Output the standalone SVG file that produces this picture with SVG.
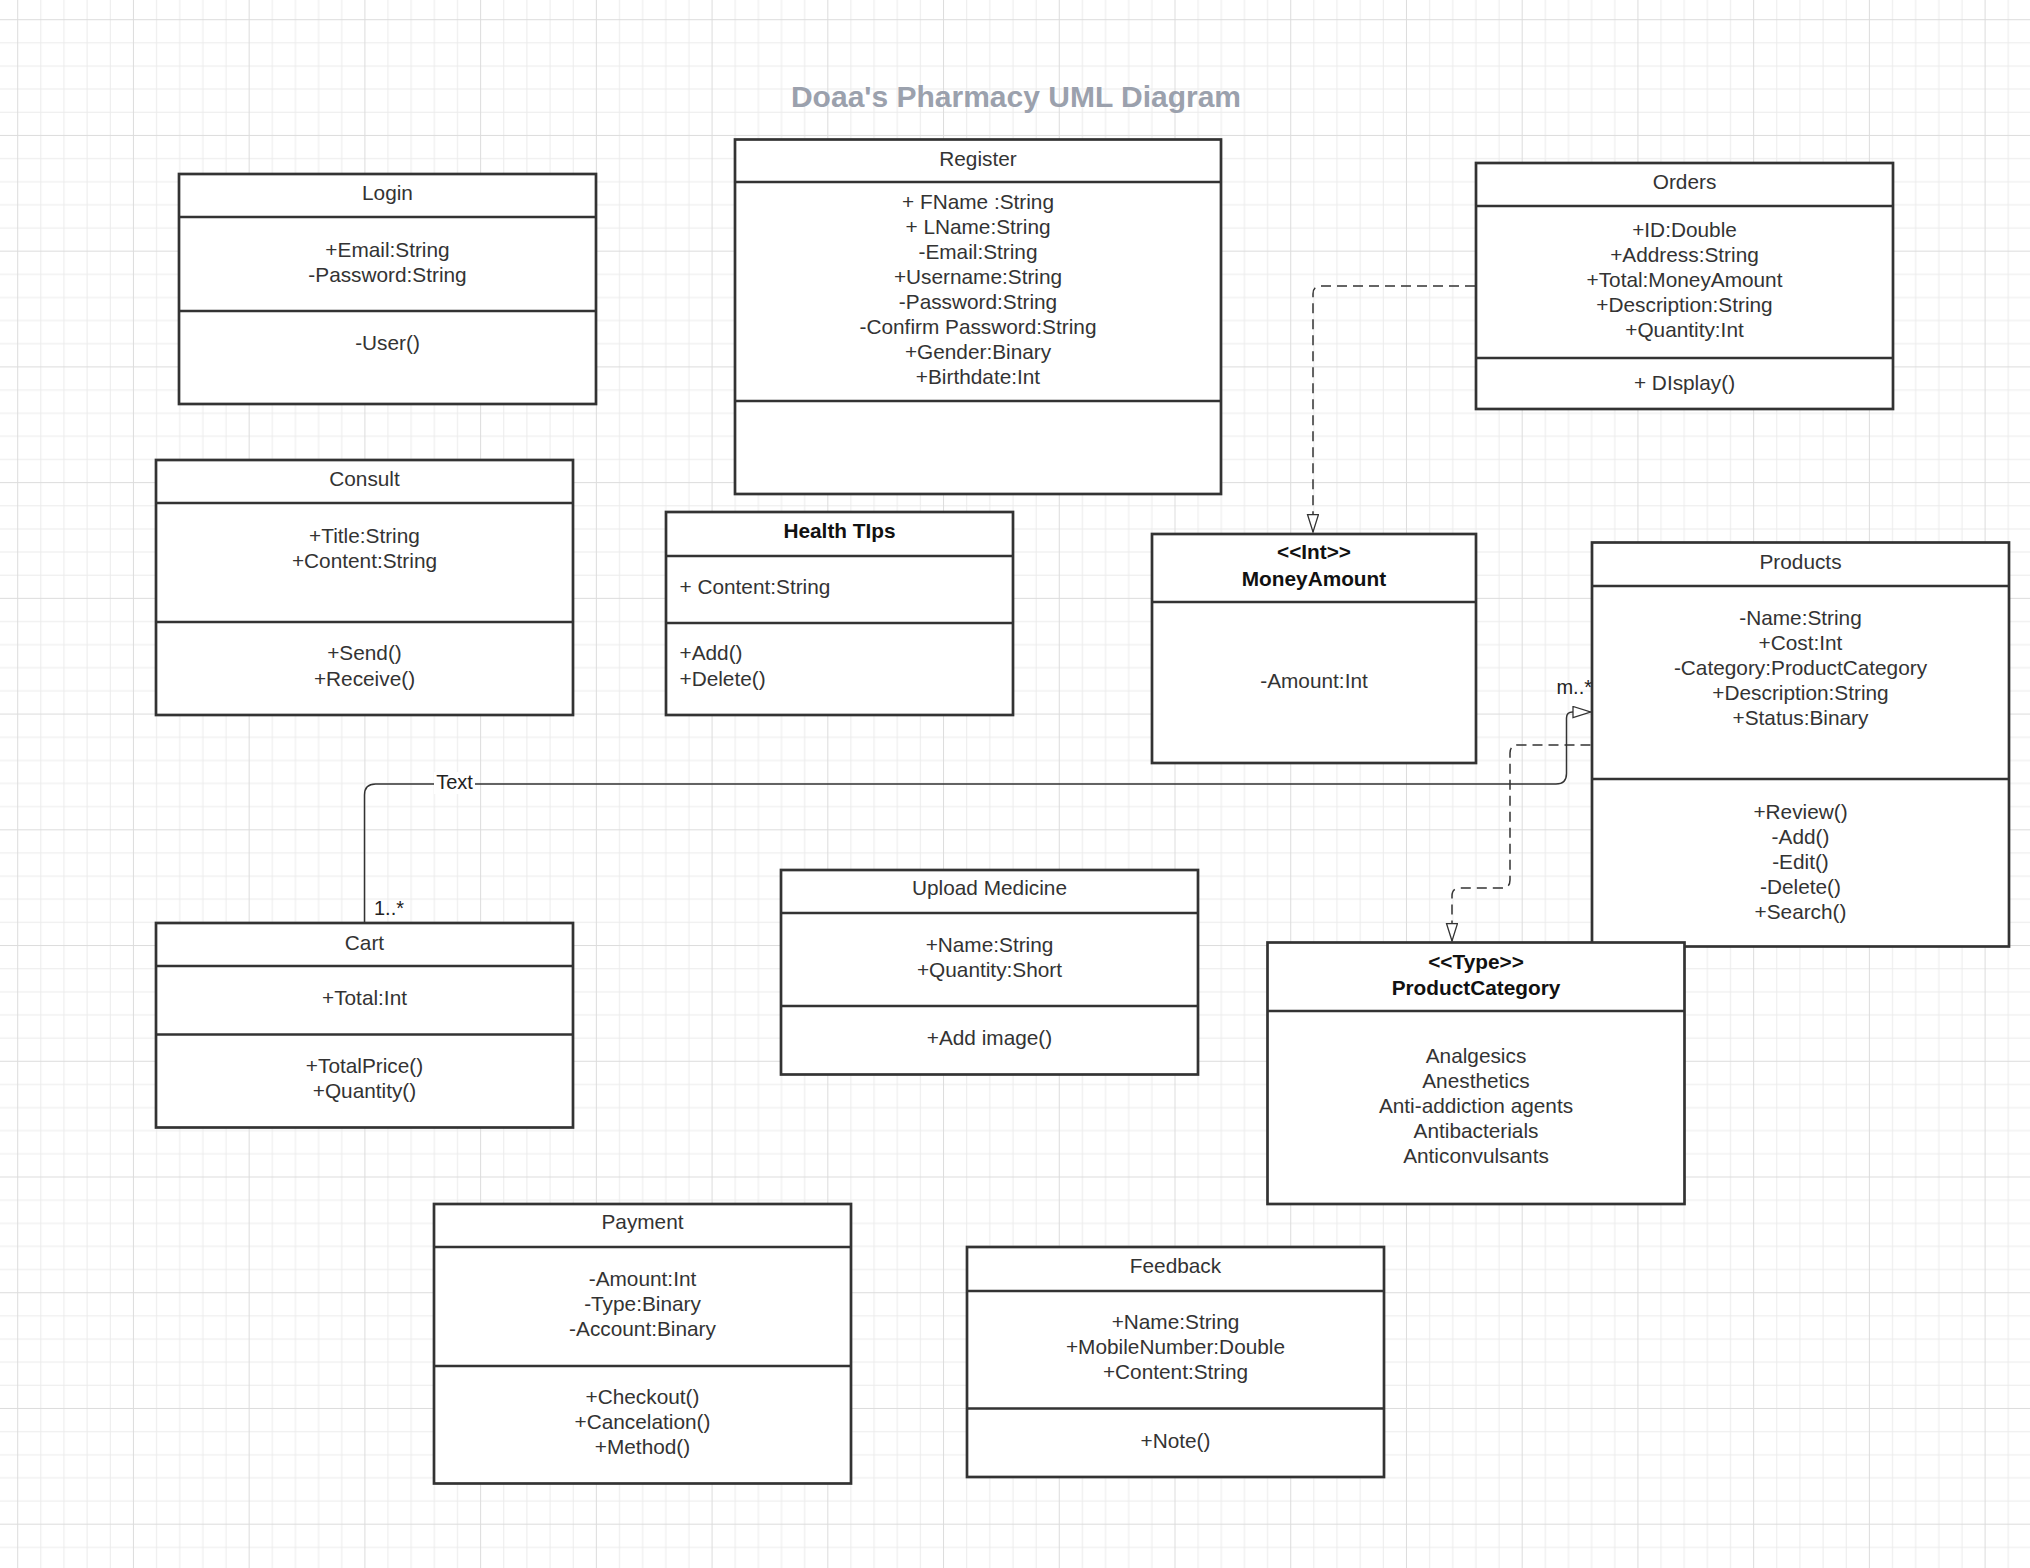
<svg xmlns="http://www.w3.org/2000/svg" width="2030" height="1568" viewBox="0 0 2030 1568">
<style>
.box{fill:#fff;stroke:#333;stroke-width:2.7}
.div{stroke:#333;stroke-width:2.7;fill:none}
.t{font-family:"Liberation Sans",Arial,sans-serif;font-size:20.8px;fill:#333;text-anchor:middle}
.l{text-anchor:start}
.b{font-weight:bold;fill:#111}
.conn{fill:none;stroke:#333;stroke-width:1.5}
.dash{stroke-dasharray:10 6}
.lab{font-family:"Liberation Sans",Arial,sans-serif;font-size:20px;fill:#222}
.title{font-family:"Liberation Sans",Arial,sans-serif;font-size:30px;font-weight:bold;fill:#9ba1ad;text-anchor:middle}
</style>
<defs>
<pattern id="grid" x="17.2" y="19.2" width="115.73" height="115.73" patternUnits="userSpaceOnUse">
<path d="M23.65,0V115.73M46.79,0V115.73M69.94,0V115.73M93.08,0V115.73M0,23.65H115.73M0,46.79H115.73M0,69.94H115.73M0,93.08H115.73" stroke="#ebebeb" stroke-width="1" fill="none"/>
<path d="M0.5,0V115.73M0,0.5H115.73" stroke="#dcdcdc" stroke-width="1" fill="none"/>
</pattern>
<marker id="tri" markerUnits="userSpaceOnUse" markerWidth="20" markerHeight="13" refX="18.5" refY="6" orient="auto">
<path d="M1,0.5 L18.5,6 L1,11.5 Z" fill="#fff" stroke="#333" stroke-width="1.3"/>
</marker>
</defs>
<rect width="2030" height="1568" fill="#fff"/>
<rect width="2030" height="1568" fill="url(#grid)"/>
<text class="title" x="1016" y="106.5">Doaa's Pharmacy UML Diagram</text>

<g id="login">
<rect class="box" x="179" y="174" width="417" height="230"/>
<path class="div" d="M179,217H596M179,311H596"/>
<text class="t" x="387.5" y="200">Login</text>
<text class="t" x="387.5" y="257">+Email:String</text>
<text class="t" x="387.5" y="282">-Password:String</text>
<text class="t" x="387.5" y="350">-User()</text>
</g>

<g id="register">
<rect class="box" x="735" y="139.5" width="486" height="354.5"/>
<path class="div" d="M735,182H1221M735,401H1221"/>
<text class="t" x="978" y="166">Register</text>
<text class="t" x="978" y="209">+ FName :String</text>
<text class="t" x="978" y="234">+ LName:String</text>
<text class="t" x="978" y="259">-Email:String</text>
<text class="t" x="978" y="284">+Username:String</text>
<text class="t" x="978" y="309">-Password:String</text>
<text class="t" x="978" y="334">-Confirm Password:String</text>
<text class="t" x="978" y="359">+Gender:Binary</text>
<text class="t" x="978" y="384">+Birthdate:Int</text>
</g>

<g id="orders">
<rect class="box" x="1476" y="163" width="417" height="246"/>
<path class="div" d="M1476,206H1893M1476,358H1893"/>
<text class="t" x="1684.5" y="189">Orders</text>
<text class="t" x="1684.5" y="237">+ID:Double</text>
<text class="t" x="1684.5" y="262">+Address:String</text>
<text class="t" x="1684.5" y="287">+Total:MoneyAmount</text>
<text class="t" x="1684.5" y="312">+Description:String</text>
<text class="t" x="1684.5" y="337">+Quantity:Int</text>
<text class="t" x="1684.5" y="390">+ DIsplay()</text>
</g>

<g id="consult">
<rect class="box" x="156" y="460" width="417" height="255"/>
<path class="div" d="M156,503H573M156,622H573"/>
<text class="t" x="364.5" y="486">Consult</text>
<text class="t" x="364.5" y="543">+Title:String</text>
<text class="t" x="364.5" y="568">+Content:String</text>
<text class="t" x="364.5" y="660">+Send()</text>
<text class="t" x="364.5" y="686">+Receive()</text>
</g>

<g id="healthtips">
<rect class="box" x="666" y="512" width="347" height="203"/>
<path class="div" d="M666,556H1013M666,623H1013"/>
<text class="t b" x="839.5" y="538">Health TIps</text>
<text class="t l" x="679.5" y="594">+ Content:String</text>
<text class="t l" x="679.5" y="660">+Add()</text>
<text class="t l" x="679.5" y="686">+Delete()</text>
</g>

<g id="moneyamount">
<rect class="box" x="1152" y="534" width="324" height="229"/>
<path class="div" d="M1152,602H1476"/>
<text class="t b" x="1314" y="559">&lt;&lt;Int&gt;&gt;</text>
<text class="t b" x="1314" y="586">MoneyAmount</text>
<text class="t" x="1314" y="688">-Amount:Int</text>
</g>

<g id="products">
<rect class="box" x="1592" y="542.5" width="417" height="404"/>
<path class="div" d="M1592,586H2009M1592,779H2009"/>
<text class="t" x="1800.5" y="569">Products</text>
<text class="t" x="1800.5" y="625">-Name:String</text>
<text class="t" x="1800.5" y="650">+Cost:Int</text>
<text class="t" x="1800.5" y="675">-Category:ProductCategory</text>
<text class="t" x="1800.5" y="700">+Description:String</text>
<text class="t" x="1800.5" y="725">+Status:Binary</text>
<text class="t" x="1800.5" y="819">+Review()</text>
<text class="t" x="1800.5" y="844">-Add()</text>
<text class="t" x="1800.5" y="869">-Edit()</text>
<text class="t" x="1800.5" y="894">-Delete()</text>
<text class="t" x="1800.5" y="919">+Search()</text>
</g>

<g id="productcategory">
<rect class="box" x="1267.5" y="942.5" width="417" height="261.5"/>
<path class="div" d="M1267.5,1011H1684.5"/>
<text class="t b" x="1476" y="969">&lt;&lt;Type&gt;&gt;</text>
<text class="t b" x="1476" y="995">ProductCategory</text>
<text class="t" x="1476" y="1063">Analgesics</text>
<text class="t" x="1476" y="1088">Anesthetics</text>
<text class="t" x="1476" y="1113">Anti-addiction agents</text>
<text class="t" x="1476" y="1138">Antibacterials</text>
<text class="t" x="1476" y="1163">Anticonvulsants</text>
</g>

<g id="uploadmedicine">
<rect class="box" x="781" y="870" width="417" height="204.5"/>
<path class="div" d="M781,913H1198M781,1006H1198"/>
<text class="t" x="989.5" y="895">Upload Medicine</text>
<text class="t" x="989.5" y="952">+Name:String</text>
<text class="t" x="989.5" y="977">+Quantity:Short</text>
<text class="t" x="989.5" y="1045">+Add image()</text>
</g>

<g id="cart">
<rect class="box" x="156" y="923" width="417" height="204.5"/>
<path class="div" d="M156,966H573M156,1034.5H573"/>
<text class="t" x="364.5" y="950">Cart</text>
<text class="t" x="364.5" y="1005">+Total:Int</text>
<text class="t" x="364.5" y="1073">+TotalPrice()</text>
<text class="t" x="364.5" y="1098">+Quantity()</text>
</g>

<g id="payment">
<rect class="box" x="434" y="1204" width="417" height="279.5"/>
<path class="div" d="M434,1247H851M434,1366H851"/>
<text class="t" x="642.5" y="1229">Payment</text>
<text class="t" x="642.5" y="1286">-Amount:Int</text>
<text class="t" x="642.5" y="1311">-Type:Binary</text>
<text class="t" x="642.5" y="1336">-Account:Binary</text>
<text class="t" x="642.5" y="1404">+Checkout()</text>
<text class="t" x="642.5" y="1429">+Cancelation()</text>
<text class="t" x="642.5" y="1454">+Method()</text>
</g>

<g id="feedback">
<rect class="box" x="967" y="1247" width="417" height="230"/>
<path class="div" d="M967,1291H1384M967,1408.5H1384"/>
<text class="t" x="1175.5" y="1273">Feedback</text>
<text class="t" x="1175.5" y="1329">+Name:String</text>
<text class="t" x="1175.5" y="1354">+MobileNumber:Double</text>
<text class="t" x="1175.5" y="1379">+Content:String</text>
<text class="t" x="1175.5" y="1448">+Note()</text>
</g>

<g id="connectors">
<path class="conn dash" d="M1475,286H1321Q1313,286 1313,294V532" marker-end="url(#tri)"/>
<path class="conn" d="M364.5,922V795Q364.5,784 375.5,784H1556Q1566.5,784 1566.5,773.5V718Q1566.5,712 1572.5,712H1590.5" marker-end="url(#tri)"/>
<path class="conn dash" d="M1590.5,745H1518Q1510,745 1510,753V880Q1510,888 1502,888H1460Q1452,888 1452,896V941" marker-end="url(#tri)"/>
<rect x="434" y="772" width="41" height="22" fill="#fff"/>
<text class="lab" x="454.5" y="789" text-anchor="middle" font-size="19">Text</text>
<text class="lab" x="374" y="915">1..*</text>
<text class="lab" x="1592" y="694" text-anchor="end">m..*</text>
</g>
</svg>
